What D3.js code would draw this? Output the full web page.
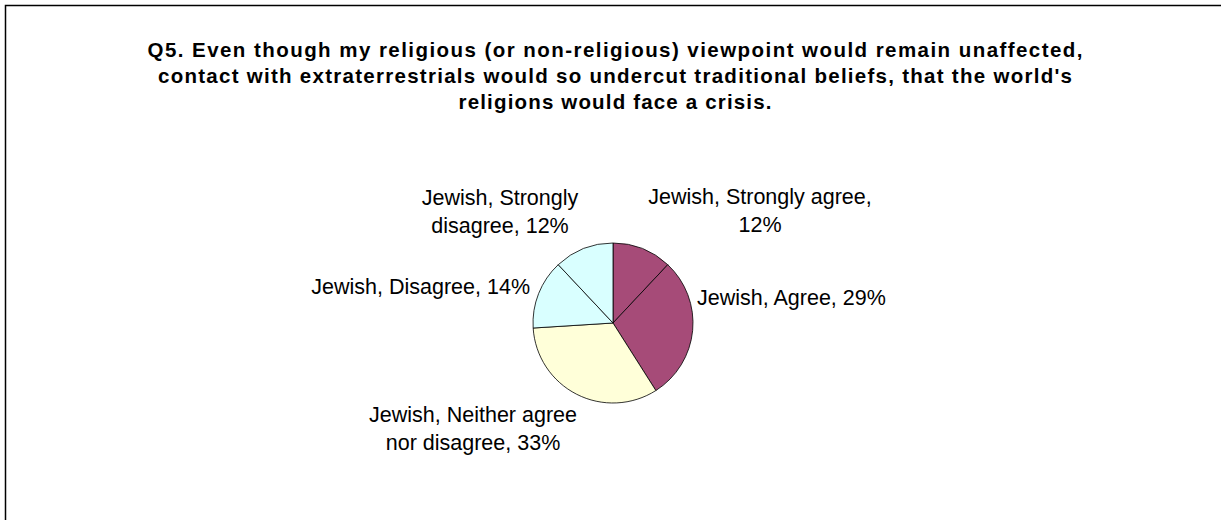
<!DOCTYPE html>
<html>
<head>
<meta charset="utf-8">
<script src="https://cdn.jsdelivr.net/npm/d3@7"></script>
<style>
  html, body { margin: 0; padding: 0; background: #fff; }
  svg { display: block; }
</style>
</head>
<body>
<script>
// ---- data ----
const categories = ["Strongly agree", "Agree", "Neither agree nor disagree", "Disagree", "Strongly disagree"];
const values = [12, 29, 33, 14, 12];
const group = "Jewish";
const titleLines = [
  "Q5. Even though my religious (or non-religious) viewpoint would remain unaffected,",
  "contact with extraterrestrials would so undercut traditional beliefs, that the world's",
  "religions would face a crisis."
];
const colors = ["#A64B78", "#A64B78", "#FFFFD9", "#D9FFFF", "#D9FFFF"];
// label lines as displayed
const labelLines = [
  ["Jewish, Strongly agree,", "12%"],
  ["Jewish, Agree, 29%"],
  ["Jewish, Neither agree", "nor disagree, 33%"],
  ["Jewish, Disagree, 14%"],
  ["Jewish, Strongly", "disagree, 12%"]
];

// ---- layout ----
const W = 1221, H = 520;
const cx = 613, cy = 323, R = 80;
const labelLayout = [
  {dx: 147, dy: -126, anchor: "middle"},
  {dx: 84, dy: -25, anchor: "start"},
  {dx: -140, dy: 92, anchor: "middle"},
  {dx: -83, dy: -36, anchor: "end"},
  {dx: -113, dy: -125, anchor: "middle"}
];
const titleWidths = [935, 914, 313];

const svg = d3.select("body").append("svg").attr("width", W).attr("height", H);

svg.append("rect").attr("x", 5.5).attr("y", 5.5).attr("width", W + 20).attr("height", H + 20)
  .attr("fill", "#fff").attr("stroke", "#000").attr("stroke-width", 1.5);

const title = svg.append("g").attr("font-family", "Liberation Sans, Arial, sans-serif")
  .attr("font-weight", "bold").attr("font-size", 20.5).attr("fill", "#000");
titleLines.forEach((t, i) => {
  title.append("text").attr("x", 615).attr("y", 49 + i * 26)
    .attr("text-anchor", "middle").attr("dominant-baseline", "central")
    .attr("textLength", titleWidths[i]).attr("lengthAdjust", "spacing")
    .text(t);
});

const pie = d3.pie().sort(null).value(d => d)(values);
const arc = d3.arc().innerRadius(0).outerRadius(R);
const g = svg.append("g").attr("transform", `translate(${cx},${cy})`);
g.selectAll("path").data(pie).join("path")
  .attr("d", arc)
  .attr("fill", (d, i) => colors[i])
  .attr("stroke", "#000").attr("stroke-width", 0.8);

const lg = g.append("g").attr("font-family", "Liberation Sans, Arial, sans-serif")
  .attr("font-size", 21.5).attr("fill", "#000");
pie.forEach((d, i) => {
  const L = labelLayout[i];
  const t = lg.append("text").attr("text-anchor", L.anchor);
  labelLines[i].forEach((line, j) => {
    t.append("tspan").attr("x", L.dx).attr("y", L.dy + j * 28)
      .attr("dominant-baseline", "central").text(line);
  });
});
</script>
</body>
</html>
